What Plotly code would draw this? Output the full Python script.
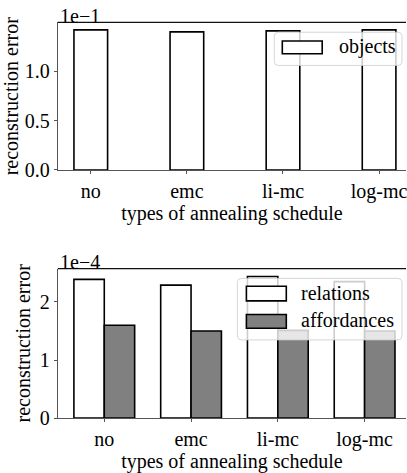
import plotly.graph_objects as go

# ---- data ----
categories = ["no", "emc", "li-mc", "log-mc"]
objects_err = [0.142, 0.140, 0.141, 0.142]          # top panel (x1e-1 shown)
relations_err = [2.39e-4, 2.29e-4, 2.44e-4, 2.35e-4]  # bottom panel
affordances_err = [1.60e-4, 1.50e-4, 1.51e-4, 1.50e-4]
top_ticks = [0, 0.05, 0.10]
top_ticktext = ["0.0", "0.5", "1.0"]
bot_ticks = [0, 1e-4, 2e-4]
bot_ticktext = ["0", "1", "2"]
x_title = "types of annealing schedule"
y_title = "reconstruction error"

W, H = 407, 473
FONT = "Liberation Serif"
FS = 20
BW = 0.35


def px(x):
    return x / W


def py(y):
    return 1 - y / H


fig = go.Figure()

fig.add_trace(go.Bar(x=categories, y=objects_err, name="objects",
                     marker=dict(color="white", line=dict(color="black", width=1.6)),
                     width=BW, offset=-BW / 2, xaxis="x", yaxis="y", showlegend=False))
fig.add_trace(go.Bar(x=categories, y=relations_err, name="relations",
                     marker=dict(color="white", line=dict(color="black", width=1.6)),
                     width=BW, offset=-BW, xaxis="x2", yaxis="y2", showlegend=False))
fig.add_trace(go.Bar(x=categories, y=affordances_err, name="affordances",
                     marker=dict(color="#808080", line=dict(color="black", width=1.6)),
                     width=BW, offset=0, xaxis="x2", yaxis="y2", showlegend=False))

axfont = dict(family=FONT, size=FS, color="black")
common_x = dict(showline=True, linecolor="#555", linewidth=1, ticks="outside", ticklen=3,
                tickcolor="#555", tickfont=axfont, showgrid=False, zeroline=False,
                domain=[px(58), 1], type="category",
                title=dict(text=x_title, font=axfont, standoff=0))
common_y = dict(showline=True, linecolor="#555", linewidth=1, ticks="outside", ticklen=3,
                tickcolor="#555", tickfont=axfont, showgrid=False, zeroline=False,
                title=dict(text=y_title, font=axfont, standoff=3))

fig.update_layout(
    width=W, height=H, margin=dict(l=0, r=0, t=0, b=0),
    plot_bgcolor="white", paper_bgcolor="white", barmode="overlay",
    font=dict(family=FONT, size=FS, color="black"),
    xaxis=dict(common_x, anchor="y", range=[-0.3425, 3.28]),
    yaxis=dict(common_y, anchor="x", domain=[py(174), py(23)], range=[0, 0.1495],
               tickvals=top_ticks, ticktext=top_ticktext),
    xaxis2=dict(common_x, anchor="y2", range=[-0.535, 3.477]),
    yaxis2=dict(common_y, anchor="x2", domain=[py(428), py(275)], range=[0, 2.575e-4],
                tickvals=bot_ticks, ticktext=bot_ticktext),
)

# top spines
for yy in (23, 275):
    fig.add_shape(type="line", xref="paper", yref="paper", x0=px(58), x1=1,
                  y0=py(yy), y1=py(yy), line=dict(color="#111", width=1.2))

# offset texts
for txt, yy in (("1e\u22121", 16), ("1e\u22124", 268)):
    fig.add_annotation(text=txt, xref="paper", yref="paper", x=px(58), y=py(yy),
                       xanchor="left", yanchor="middle", showarrow=False, font=axfont)


def rounded_box(x0, y0, x1, y1, r=4):
    X0, X1 = px(x0), px(x1)
    Y0, Y1 = py(y0), py(y1)
    rx, ry = r / W, r / H
    path = (f"M{X0+rx},{Y0} L{X1-rx},{Y0} Q{X1},{Y0} {X1},{Y0-ry} "
            f"L{X1},{Y1+ry} Q{X1},{Y1} {X1-rx},{Y1} L{X0+rx},{Y1} "
            f"Q{X0},{Y1} {X0},{Y1+ry} L{X0},{Y0-ry} Q{X0},{Y0} {X0+rx},{Y0} Z")
    fig.add_shape(type="path", path=path, xref="paper", yref="paper",
                  fillcolor="rgba(255,255,255,0.8)", line=dict(color="rgba(204,204,204,0.8)", width=1),
                  layer="above")


def legend_item(x0, y0, x1, y1, color, label, tx):
    fig.add_shape(type="rect", xref="paper", yref="paper", x0=px(x0), x1=px(x1),
                  y0=py(y1), y1=py(y0), fillcolor=color,
                  line=dict(color="black", width=1.6), layer="above")
    fig.add_annotation(text=label, xref="paper", yref="paper", x=px(tx), y=py((y0 + y1) / 2 - 1),
                       xanchor="left", yanchor="middle", showarrow=False, font=axfont)


rounded_box(275, 33, 403, 67)
legend_item(283, 42, 323, 55, "white", "objects", 338)

rounded_box(238, 285, 403, 348)
legend_item(247, 293, 287, 308, "white", "relations", 300)
legend_item(247, 322, 287, 336, "#808080", "affordances", 300)

fig.write_html("out.html")
